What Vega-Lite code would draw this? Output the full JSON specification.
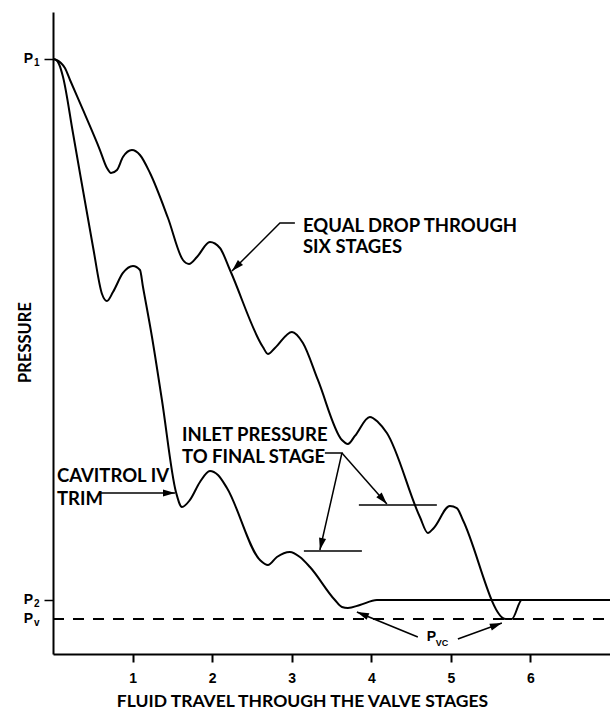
{
  "$schema": "https://vega.github.io/schema/vega-lite/v6.json",
  "width": 557,
  "height": 642,
  "autosize": {"type": "none"},
  "padding": {"left": 53, "top": 12, "right": 0, "bottom": 61},
  "background": "white",
  "config": {"view": {"stroke": null}},
  "datasets": {
    "curves": [
      {"series": "Equal drop", "i": 1, "stage": 0, "pressure": 92.68},
      {"series": "Equal drop", "i": 2, "stage": 0.05, "pressure": 92.52},
      {"series": "Equal drop", "i": 3, "stage": 0.1, "pressure": 92.06},
      {"series": "Equal drop", "i": 4, "stage": 0.15, "pressure": 91.28},
      {"series": "Equal drop", "i": 5, "stage": 0.214, "pressure": 89.41},
      {"series": "Equal drop", "i": 6, "stage": 0.377, "pressure": 84.74},
      {"series": "Equal drop", "i": 7, "stage": 0.59, "pressure": 78.5},
      {"series": "Equal drop", "i": 8, "stage": 0.678, "pressure": 75.7},
      {"series": "Equal drop", "i": 9, "stage": 0.729, "pressure": 74.92},
      {"series": "Equal drop", "i": 10, "stage": 0.804, "pressure": 75.39},
      {"series": "Equal drop", "i": 11, "stage": 0.879, "pressure": 77.41},
      {"series": "Equal drop", "i": 12, "stage": 0.992, "pressure": 78.5},
      {"series": "Equal drop", "i": 13, "stage": 1.093, "pressure": 77.73},
      {"series": "Equal drop", "i": 14, "stage": 1.219, "pressure": 74.92},
      {"series": "Equal drop", "i": 15, "stage": 1.445, "pressure": 67.91},
      {"series": "Equal drop", "i": 16, "stage": 1.633, "pressure": 61.37},
      {"series": "Equal drop", "i": 17, "stage": 1.709, "pressure": 60.75},
      {"series": "Equal drop", "i": 18, "stage": 1.809, "pressure": 61.84},
      {"series": "Equal drop", "i": 19, "stage": 1.972, "pressure": 64.17},
      {"series": "Equal drop", "i": 20, "stage": 2.098, "pressure": 63.24},
      {"series": "Equal drop", "i": 21, "stage": 2.224, "pressure": 59.81},
      {"series": "Equal drop", "i": 22, "stage": 2.638, "pressure": 47.82},
      {"series": "Equal drop", "i": 23, "stage": 2.701, "pressure": 46.73},
      {"series": "Equal drop", "i": 24, "stage": 2.789, "pressure": 47.66},
      {"series": "Equal drop", "i": 25, "stage": 3.003, "pressure": 50.16},
      {"series": "Equal drop", "i": 26, "stage": 3.141, "pressure": 48.44},
      {"series": "Equal drop", "i": 27, "stage": 3.329, "pressure": 42.68},
      {"series": "Equal drop", "i": 28, "stage": 3.631, "pressure": 33.33},
      {"series": "Equal drop", "i": 29, "stage": 3.706, "pressure": 32.71},
      {"series": "Equal drop", "i": 30, "stage": 3.794, "pressure": 33.96},
      {"series": "Equal drop", "i": 31, "stage": 3.982, "pressure": 36.92},
      {"series": "Equal drop", "i": 32, "stage": 4.083, "pressure": 36.14},
      {"series": "Equal drop", "i": 33, "stage": 4.196, "pressure": 34.42},
      {"series": "Equal drop", "i": 34, "stage": 4.611, "pressure": 21.34},
      {"series": "Equal drop", "i": 35, "stage": 4.711, "pressure": 18.85},
      {"series": "Equal drop", "i": 36, "stage": 4.786, "pressure": 19.63},
      {"series": "Equal drop", "i": 37, "stage": 4.987, "pressure": 23.05},
      {"series": "Equal drop", "i": 38, "stage": 5.075, "pressure": 22.74},
      {"series": "Equal drop", "i": 39, "stage": 5.151, "pressure": 20.87},
      {"series": "Equal drop", "i": 40, "stage": 5.691, "pressure": 5.45},
      {"series": "Equal drop", "i": 41, "stage": 5.766, "pressure": 5.45},
      {"series": "Equal drop", "i": 42, "stage": 5.892, "pressure": 8.41},
      {"series": "Equal drop", "i": 43, "stage": 7.0, "pressure": 8.41},
      {"series": "Cavitrol IV", "i": 1, "stage": 0, "pressure": 92.68},
      {"series": "Cavitrol IV", "i": 2, "stage": 0.038, "pressure": 92.52},
      {"series": "Cavitrol IV", "i": 3, "stage": 0.075, "pressure": 91.9},
      {"series": "Cavitrol IV", "i": 4, "stage": 0.126, "pressure": 89.88},
      {"series": "Cavitrol IV", "i": 5, "stage": 0.251, "pressure": 81.15},
      {"series": "Cavitrol IV", "i": 6, "stage": 0.503, "pressure": 63.4},
      {"series": "Cavitrol IV", "i": 7, "stage": 0.616, "pressure": 56.07},
      {"series": "Cavitrol IV", "i": 8, "stage": 0.678, "pressure": 54.98},
      {"series": "Cavitrol IV", "i": 9, "stage": 0.754, "pressure": 56.39},
      {"series": "Cavitrol IV", "i": 10, "stage": 0.879, "pressure": 59.35},
      {"series": "Cavitrol IV", "i": 11, "stage": 1.005, "pressure": 60.44},
      {"series": "Cavitrol IV", "i": 12, "stage": 1.093, "pressure": 59.81},
      {"series": "Cavitrol IV", "i": 13, "stage": 1.131, "pressure": 57.17},
      {"series": "Cavitrol IV", "i": 14, "stage": 1.244, "pressure": 49.38},
      {"series": "Cavitrol IV", "i": 15, "stage": 1.369, "pressure": 39.56},
      {"series": "Cavitrol IV", "i": 16, "stage": 1.545, "pressure": 25.23},
      {"series": "Cavitrol IV", "i": 17, "stage": 1.621, "pressure": 22.9},
      {"series": "Cavitrol IV", "i": 18, "stage": 1.721, "pressure": 23.99},
      {"series": "Cavitrol IV", "i": 19, "stage": 1.847, "pressure": 26.79},
      {"series": "Cavitrol IV", "i": 20, "stage": 1.972, "pressure": 28.5},
      {"series": "Cavitrol IV", "i": 21, "stage": 2.073, "pressure": 27.88},
      {"series": "Cavitrol IV", "i": 22, "stage": 2.186, "pressure": 25.86},
      {"series": "Cavitrol IV", "i": 23, "stage": 2.601, "pressure": 14.64},
      {"series": "Cavitrol IV", "i": 24, "stage": 2.701, "pressure": 13.86},
      {"series": "Cavitrol IV", "i": 25, "stage": 2.814, "pressure": 15.11},
      {"series": "Cavitrol IV", "i": 26, "stage": 2.977, "pressure": 15.89},
      {"series": "Cavitrol IV", "i": 27, "stage": 3.103, "pressure": 15.11},
      {"series": "Cavitrol IV", "i": 28, "stage": 3.229, "pressure": 13.55},
      {"series": "Cavitrol IV", "i": 29, "stage": 3.543, "pressure": 8.41},
      {"series": "Cavitrol IV", "i": 30, "stage": 3.631, "pressure": 7.32},
      {"series": "Cavitrol IV", "i": 31, "stage": 3.706, "pressure": 7.17},
      {"series": "Cavitrol IV", "i": 32, "stage": 3.857, "pressure": 7.63},
      {"series": "Cavitrol IV", "i": 33, "stage": 4.07, "pressure": 8.41},
      {"series": "Cavitrol IV", "i": 34, "stage": 7.0, "pressure": 8.41}
    ],
    "levels": [
      {"level": "Pv", "stage": 0, "stage2": 7, "pressure": 5.45}
    ],
    "ylabels": [
      {"level": "P1", "main": "P", "sub": "1", "stage": 0, "pressure": 92.68},
      {"level": "P2", "main": "P", "sub": "2", "stage": 0, "pressure": 8.41},
      {"level": "Pv", "main": "P", "sub": "v", "stage": 0, "pressure": 5.45}
    ],
    "inlet": [
      {"stage": 3.153, "stage2": 3.882, "pressure": 16.04},
      {"stage": 3.844, "stage2": 4.824, "pressure": 23.21}
    ],
    "arrows": [
      {"arrow": "equal", "i": 1, "stage": 3.04, "pressure": 67.13},
      {"arrow": "equal", "i": 2, "stage": 2.852, "pressure": 67.13},
      {"arrow": "equal", "i": 3, "stage": 2.249, "pressure": 59.66},
      {"arrow": "cavitrol", "i": 1, "stage": 0.59, "pressure": 25.08},
      {"arrow": "cavitrol", "i": 2, "stage": 1.533, "pressure": 25.08},
      {"arrow": "inletA", "i": 1, "stage": 3.417, "pressure": 31.31},
      {"arrow": "inletA", "i": 2, "stage": 3.631, "pressure": 31.31},
      {"arrow": "inletA", "i": 3, "stage": 3.354, "pressure": 16.2},
      {"arrow": "inletB", "i": 1, "stage": 3.631, "pressure": 31.31},
      {"arrow": "inletB", "i": 2, "stage": 4.196, "pressure": 23.36},
      {"arrow": "pvcA", "i": 1, "stage": 4.585, "pressure": 2.65},
      {"arrow": "pvcA", "i": 2, "stage": 3.819, "pressure": 6.54},
      {"arrow": "pvcB", "i": 1, "stage": 5.088, "pressure": 2.34},
      {"arrow": "pvcB", "i": 2, "stage": 5.641, "pressure": 4.83}
    ],
    "heads": [
      {"arrow": "equal", "stage": 2.249, "pressure": 59.66, "heading": 225},
      {"arrow": "cavitrol", "stage": 1.533, "pressure": 25.08, "heading": 90},
      {"arrow": "inletA", "stage": 3.354, "pressure": 16.2, "heading": 193},
      {"arrow": "inletB", "stage": 4.196, "pressure": 23.36, "heading": 139},
      {"arrow": "pvcA", "stage": 3.819, "pressure": 6.54, "heading": 292},
      {"arrow": "pvcB", "stage": 5.641, "pressure": 4.83, "heading": 70}
    ],
    "notes": [
      {"text": "EQUAL DROP THROUGH", "stage": 3.141, "pressure": 66.59},
      {"text": "SIX STAGES", "stage": 3.141, "pressure": 63.32},
      {"text": "INLET PRESSURE", "stage": 1.621, "pressure": 34.11},
      {"text": "TO FINAL STAGE", "stage": 1.621, "pressure": 30.69},
      {"text": "CAVITROL IV", "stage": 0.05, "pressure": 27.65},
      {"text": "TRIM", "stage": 0.05, "pressure": 24.22}
    ],
    "pvc": [
      {"text": "P", "stage": 4.698, "pressure": 2.65}
    ],
    "pvcsub": [
      {"text": "VC", "stage": 4.81, "pressure": 1.79}
    ]
  },
  "encoding": {
    "x": {
      "field": "stage", "type": "quantitative",
      "scale": {"domain": [0, 7], "nice": false, "zero": false},
      "axis": {
        "title": "FLUID TRAVEL THROUGH THE VALVE STAGES",
        "values": [1, 2, 3, 4, 5, 6],
        "grid": false,
        "domainColor": "black", "domainWidth": 2,
        "tickColor": "black", "tickWidth": 2, "tickSize": 8,
        "labelFont": "Liberation Sans", "labelFontWeight": "bold", "labelFontSize": 14, "labelColor": "black",
        "labelPadding": 9,
        "titleFont": "Lato", "titleFontWeight": "bold", "titleFontSize": 17.5, "titleColor": "black",
        "titleX": 249, "titleAnchor": "middle", "titleAlign": "center",
        "titlePadding": 7
      }
    },
    "y": {
      "field": "pressure", "type": "quantitative",
      "scale": {"domain": [0, 100], "nice": false, "zero": false},
      "axis": {
        "title": "PRESSURE",
        "values": [92.68, 8.41],
        "labels": false,
        "grid": false,
        "domainColor": "black", "domainWidth": 2,
        "tickColor": "black", "tickWidth": 1.5, "tickSize": 9,
        "titleFont": "Lato", "titleFontWeight": "bold", "titleFontSize": 16.5, "titleColor": "black",
        "titleX": -28, "titleY": 330, "titleAlign": "center", "titleBaseline": "middle", "titleAngle": -90
      }
    }
  },
  "layer": [
    {
      "data": {"name": "levels"},
      "mark": {"type": "rule", "color": "black", "strokeWidth": 1.8, "strokeDash": [11, 9]},
      "encoding": {"x2": {"field": "stage2"}}
    },
    {
      "data": {"name": "curves"},
      "mark": {"type": "line", "color": "black", "strokeWidth": 2, "interpolate": "monotone"},
      "encoding": {
        "detail": {"field": "series"},
        "order": {"field": "i", "type": "quantitative"}
      }
    },
    {
      "data": {"name": "inlet"},
      "mark": {"type": "rule", "color": "black", "strokeWidth": 1.6},
      "encoding": {"x2": {"field": "stage2"}}
    },
    {
      "data": {"name": "arrows"},
      "mark": {"type": "line", "color": "black", "strokeWidth": 1.5},
      "encoding": {
        "detail": {"field": "arrow"},
        "order": {"field": "i", "type": "quantitative"}
      }
    },
    {
      "data": {"name": "heads"},
      "mark": {"type": "point", "shape": "M0,0L0.6,2L-0.6,2Z", "filled": true, "color": "black", "opacity": 1, "size": 144},
      "encoding": {"angle": {"field": "heading", "type": "quantitative", "scale": null}}
    },
    {
      "data": {"name": "ylabels"},
      "mark": {"type": "text", "align": "right", "baseline": "middle", "dx": -20, "font": "Liberation Sans", "fontWeight": "bold", "fontSize": 14, "color": "black"},
      "encoding": {"text": {"field": "main"}}
    },
    {
      "data": {"name": "ylabels"},
      "mark": {"type": "text", "align": "left", "baseline": "middle", "dx": -19, "dy": 4, "font": "Liberation Sans", "fontWeight": "bold", "fontSize": 10, "color": "black"},
      "encoding": {"text": {"field": "sub"}}
    },
    {
      "data": {"name": "notes"},
      "mark": {"type": "text", "align": "left", "baseline": "middle", "font": "Lato", "fontWeight": "bold", "fontSize": 18.5, "color": "black"},
      "encoding": {"text": {"field": "text"}}
    },
    {
      "data": {"name": "pvc"},
      "mark": {"type": "text", "align": "left", "baseline": "middle", "font": "Liberation Sans", "fontWeight": "bold", "fontSize": 14, "color": "black"},
      "encoding": {"text": {"field": "text"}}
    },
    {
      "data": {"name": "pvcsub"},
      "mark": {"type": "text", "align": "left", "baseline": "middle", "font": "Liberation Sans", "fontWeight": "bold", "fontSize": 9, "color": "black"},
      "encoding": {"text": {"field": "text"}}
    }
  ]
}
